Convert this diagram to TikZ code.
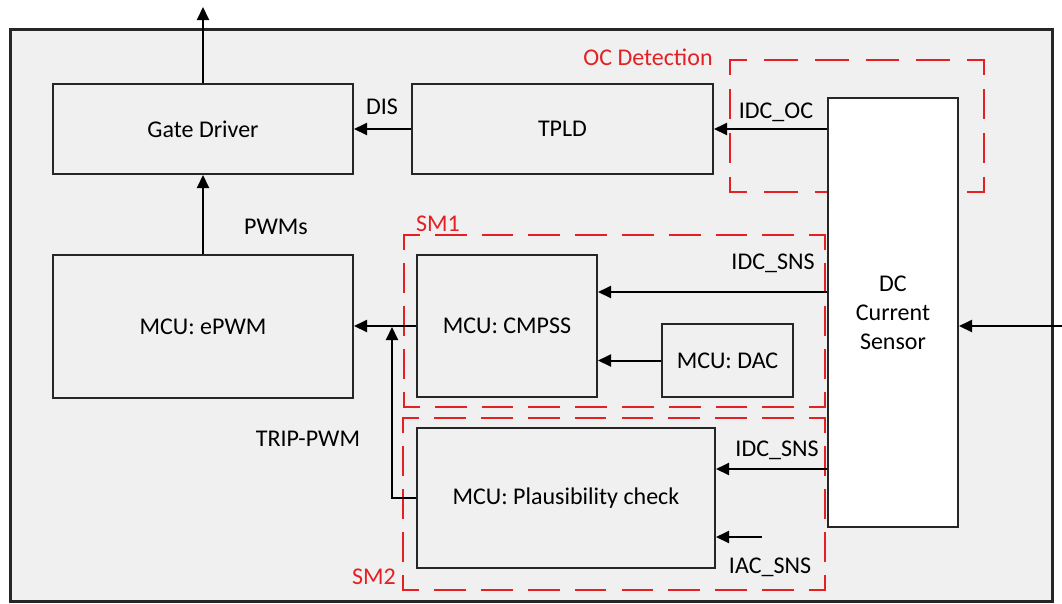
\documentclass[tikz,border=0pt]{standalone}
\usepackage{fontspec}
\setmainfont{Carlito}
\usetikzlibrary{arrows.meta}
\definecolor{bg}{RGB}{240,240,240}
\definecolor{smred}{RGB}{228,32,36}
\begin{document}
\begin{tikzpicture}[x=1pt,y=-1pt,
  font=\fontsize{24}{29}\selectfont,
  blk/.style={draw=black!85,line width=2pt,minimum width=#1,inner sep=0pt},
  arr/.style={line width=2pt,-{Triangle[length=13pt,width=12pt]}},
  zone/.style={draw=smred,line width=2.8pt,line cap=rect},
  zlabel/.style={text=smred,inner sep=0pt},
  lab/.style={inner sep=0pt}]
\useasboundingbox (0,0) rectangle (1062,603);
\fill[bg] (10,29) rectangle (1052,601);
\draw[black!85,line width=3pt] (10,29) rectangle (1052,601);

% zones (each side dashed so that the corners carry a dash)
% OC Detection
\draw[zone,dash pattern=on 31pt off 19.8pt,dash phase=15.5pt] (730,60) -- (984,60);
\draw[zone,dash pattern=on 31pt off 19.8pt,dash phase=15.5pt] (730,192) -- (984,192);
\draw[zone,dash pattern=on 27pt off 17pt,dash phase=13.5pt] (730,60) -- (730,192);
\draw[zone,dash pattern=on 27pt off 17pt,dash phase=13.5pt] (984,60) -- (984,192);
% SM1
\draw[zone,dash pattern=on 29pt off 17.78pt,dash phase=14.5pt] (404,235) -- (825,235);
\draw[zone,dash pattern=on 29pt off 17.78pt,dash phase=14.5pt] (404,407) -- (825,407);
\draw[zone,dash pattern=on 27pt off 16pt,dash phase=13.5pt] (404,235) -- (404,407);
\draw[zone,dash pattern=on 27pt off 16pt,dash phase=13.5pt] (825,235) -- (825,407);
% SM2
\draw[zone,dash pattern=on 29pt off 17.89pt,dash phase=14.5pt] (403,418) -- (825,418);
\draw[zone,dash pattern=on 29pt off 17.89pt,dash phase=14.5pt] (403,590) -- (825,590);
\draw[zone,dash pattern=on 27pt off 16pt,dash phase=13.5pt] (403,418) -- (403,590);
\draw[zone,dash pattern=on 27pt off 16pt,dash phase=13.5pt] (825,418) -- (825,590);

\node[zlabel] (ocl) at (648,57) {OC Detection};
\node[zlabel] (sm1l) at (438,224) {SM1};
\node[zlabel] (sm2l) at (374,577) {SM2};

% blocks
\node[blk=300pt,minimum height=90pt] (gd) at (203,129) {Gate Driver};
\node[blk=301pt,minimum height=90pt] (tpld) at (562.5,129) {TPLD};
\node[blk=300pt,minimum height=143pt] (epwm) at (203,326.5) {MCU: ePWM};
\node[blk=180pt,minimum height=142pt] (cmp) at (507,326) {MCU: CMPSS};
\node[blk=131pt,minimum height=73pt] (dac) at (727.5,360.5) {MCU: DAC};
\node[blk=298pt,minimum height=140pt] (pc) at (566,498) {MCU: Plausibility check};
\node[blk=130pt,minimum height=429pt,fill=white,align=center] (sens) at (893,312.5) {DC\\Current\\Sensor};

% free ends
\coordinate (out) at (203,7);
\coordinate (inp) at (1064,326);
\coordinate (iac) at (762,537);
\coordinate (tj) at (392,327);

% connectors
\draw[arr] (gd.north) -- (out);
\draw[arr] (epwm.north) -- (gd.south);
\draw[arr] (tpld.west) -- (gd.east);
\draw[arr] (sens.west |- tpld.east) -- (tpld.east);
\draw[arr] (sens.west |- 0,292) -- (cmp.east |- 0,292);
\draw[arr] (dac.west) -- (dac.west -| cmp.east);
\draw[arr] (cmp.west) -- (cmp.west -| epwm.east);
\draw[arr] (pc.west) -| (tj);
\draw[arr] (sens.west |- 0,469) -- (pc.east |- 0,469);
\draw[arr] (iac) -- (pc.east |- iac);
\draw[arr] (inp) -- (sens.east |- inp);

% labels
\node[lab] (dis) at (382,107) {DIS};
\node[lab] (idcoc) at (776,112) {IDC\_OC};
\node[lab] (pwms) at (276,227) {PWMs};
\node[lab] (trip) at (308,439) {TRIP-PWM};
\node[lab] (idc1) at (773,263) {IDC\_SNS};
\node[lab] (idc2) at (777,450) {IDC\_SNS};
\node[lab] (iacl) at (770,567) {IAC\_SNS};
\end{tikzpicture}
\end{document}
